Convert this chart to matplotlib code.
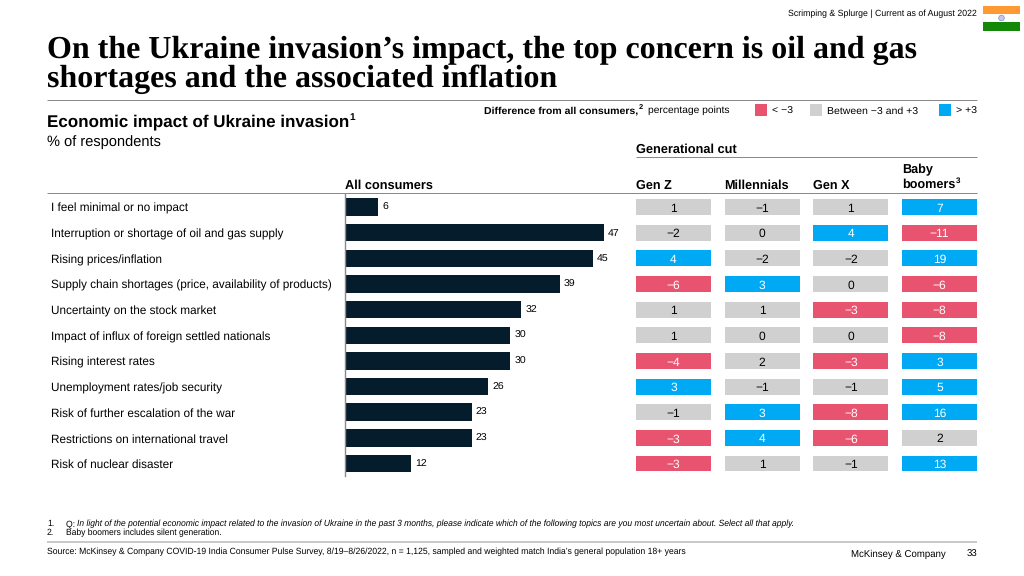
# -*- coding: utf-8 -*-
import matplotlib
matplotlib.use('Agg')
import matplotlib.pyplot as plt
from matplotlib.patches import Rectangle, Circle

plt.rcParams['font.family'] = 'Liberation Sans'
plt.rcParams['text.hinting'] = 'none'
plt.rcParams['text.hinting_factor'] = 8

# data
topics = ['I feel minimal or no impact',
          'Interruption or shortage of oil and gas supply',
          'Rising prices/inflation',
          'Supply chain shortages (price, availability of products)',
          'Uncertainty on the stock market',
          'Impact of influx of foreign settled nationals',
          'Rising interest rates',
          'Unemployment rates/job security',
          'Risk of further escalation of the war',
          'Restrictions on international travel',
          'Risk of nuclear disaster']
all_consumers = [6, 47, 45, 39, 32, 30, 30, 26, 23, 23, 12]
gen_z = [1, -2, 4, -6, 1, 1, -4, 3, -1, -3, -3]
millennials = [-1, 0, -2, 3, 1, 0, 2, -1, 3, 4, 1]
gen_x = [1, 4, -2, 0, -3, 0, -3, -1, -8, -6, -1]
boomers = [7, -11, 19, -6, -8, -8, 3, 5, 16, 2, 13]
generations = [gen_z, millennials, gen_x, boomers]
gen_labels = ['Gen Z', 'Millennials', 'Gen X']

DARK = '#051C2C'
RED = '#E8546F'
GREY = '#D0D0D0'
BLUE = '#00A9F4'
RULE = '#8A8A8A'
W, H = 1024, 576

fig = plt.figure(figsize=(W / 100, H / 100), dpi=100)

# overlay in pixel coordinates for the slide furniture
page = fig.add_axes([0, 0, 1, 1])
page.set_xlim(0, W)
page.set_ylim(H, 0)
page.axis('off')


def px(size):
    return size * 0.72


def put(x, y, s, size, **kw):
    kw.setdefault('va', 'center_baseline')
    kw.setdefault('color', 'black')
    return page.text(x, y, s, fontsize=px(size), **kw)


def sup_after(t, s, size, dy):
    # small superscript right after a text
    box = t.get_window_extent(fig.canvas.get_renderer())
    x, y = t.get_position()
    return put(box.x1 + 0.5, y - dy, s, size, fontweight=t.get_fontweight())


def rule(x0, x1, y, lw=1.0, color=RULE):
    page.plot([x0, x1], [y, y], color=color, lw=lw * 0.72, solid_capstyle='butt')


# header
put(977, 13, 'Scrimping & Splurge | Current as of August 2022', 8.75, ha='right')
page.add_patch(Rectangle((983, 5.5), 37, 8.5, color='#FF9933', lw=0))
page.add_patch(Rectangle((983, 14), 37, 8, color='white', lw=0))
page.add_patch(Rectangle((983, 22), 37, 8.5, color='#138808', lw=0))
page.add_patch(Circle((1001.5, 18), 2.8, fc='#C8C8E6', ec='#8A8AC0', lw=0.5))

title_kw = dict(family='Liberation Serif', fontweight='bold')
put(47, 47, 'On the Ukraine invasion\u2019s impact, the top concern is oil and gas', 32, **title_kw)
put(47, 76, 'shortages and the associated inflation', 32, **title_kw)
rule(47, 977, 99.5)

t = put(47, 120, 'Economic impact of Ukraine invasion', 17.05, fontweight='bold')
sup_after(t, '1', 10, 4)
put(47, 140, '% of respondents', 14.6)

# legend
t = put(484, 109.5, 'Difference from all consumers,', 10.5, fontweight='bold')
s = sup_after(t, '2', 7.5, 3)
put(s.get_window_extent(fig.canvas.get_renderer()).x1 + 5, 109.5, 'percentage points', 10.2)
page.add_patch(Rectangle((755, 104), 12, 12, color=RED, lw=0))
put(772, 110, '< \u22123', 10.5)
page.add_patch(Rectangle((810, 104), 12, 12, color=GREY, lw=0))
put(827, 110.5, 'Between \u22123 and +3', 10.5)
page.add_patch(Rectangle((939, 104), 12, 12, color=BLUE, lw=0))
put(956, 110, '> +3', 10.5)

# column headers
put(636, 148.5, 'Generational cut', 12.7, fontweight='bold')
rule(636, 977, 157)
put(345, 184, 'All consumers', 12.7, fontweight='bold')
for i, label in enumerate(gen_labels):
    put(636 + i * 88.5, 184, label, 12.6, fontweight='bold')
put(902, 169, 'Baby', 12.6, fontweight='bold')
t = put(902, 183, 'boomers', 12.6, fontweight='bold')
sup_after(t, '3', 8, 3)
rule(47, 977, 192.5)

# row labels
row_y = [207 + 25.65 * i for i in range(len(topics))]
for y, label in zip(row_y, topics):
    put(51, y + 0.5, label, 11.7)

# bars, 5.51 px per percentage point, rows 25.65 px apart
ax = fig.add_axes([345 / W, 1 - 476 / H, 290 / W, 282 / H])
ax.barh(range(len(topics)), all_consumers, height=0.68, color=DARK)
ax.set_xlim(0, 290 / 5.51)
ax.set_ylim((476 - 207) / 25.65, -(207 - 194) / 25.65)
ax.patch.set_visible(False)
for name in ['top', 'right', 'bottom']:
    ax.spines[name].set_visible(False)
ax.spines['left'].set_color(RULE)
ax.spines['left'].set_linewidth(1)
ax.set_xticks([])
ax.set_yticks([])
for i, v in enumerate(all_consumers):
    ax.annotate(str(v), (v, i), xytext=(3, 0.5), textcoords='offset points',
                va='center_baseline', fontsize=px(10.5))

# generational cut cells
heat = fig.add_axes([636 / W, 1 - 476 / H, 341 / W, 282 / H])
heat.set_xlim(0, 341 / 88.67)
heat.set_ylim((476 - 207) / 25.65, -(207 - 194) / 25.65)
heat.axis('off')
for c, values in enumerate(generations):
    for i, v in enumerate(values):
        col = BLUE if v >= 3 else RED if v <= -3 else GREY
        heat.barh(i, 75 / 88.67, left=c, height=0.62, color=col)
        label = str(v).replace('-', '\u2212')
        heat.text(c + 0.423, i + 0.01, label, ha='center', va='center_baseline', fontsize=px(12),
                  color='white' if col != GREY else 'black')

# footnotes
put(47, 523, '1.', 8.6)
put(66, 523, 'Q: ', 8.6)
put(77, 523, 'In light of the potential economic impact related to the invasion of Ukraine in the past 3 months, '
    'please indicate which of the following topics are you most uncertain about. Select all that apply.', 8.57, style='italic')
put(47, 532, '2.', 8.6)
put(66, 532, 'Baby boomers includes silent generation.', 8.55)
rule(47, 977, 541.5, lw=1.5, color='#B8B8B8')
put(47, 551, 'Source: McKinsey & Company COVID-19 India Consumer Pulse Survey, 8/19\u20138/26/2022, n = 1,125, '
    'sampled and weighted match India\u2019s general population 18+ years', 8.64)
put(946, 553, 'McKinsey & Company', 9.6, ha='right')
put(977, 553, '33', 9.6, ha='right')

fig.savefig('out.png', dpi=100)
